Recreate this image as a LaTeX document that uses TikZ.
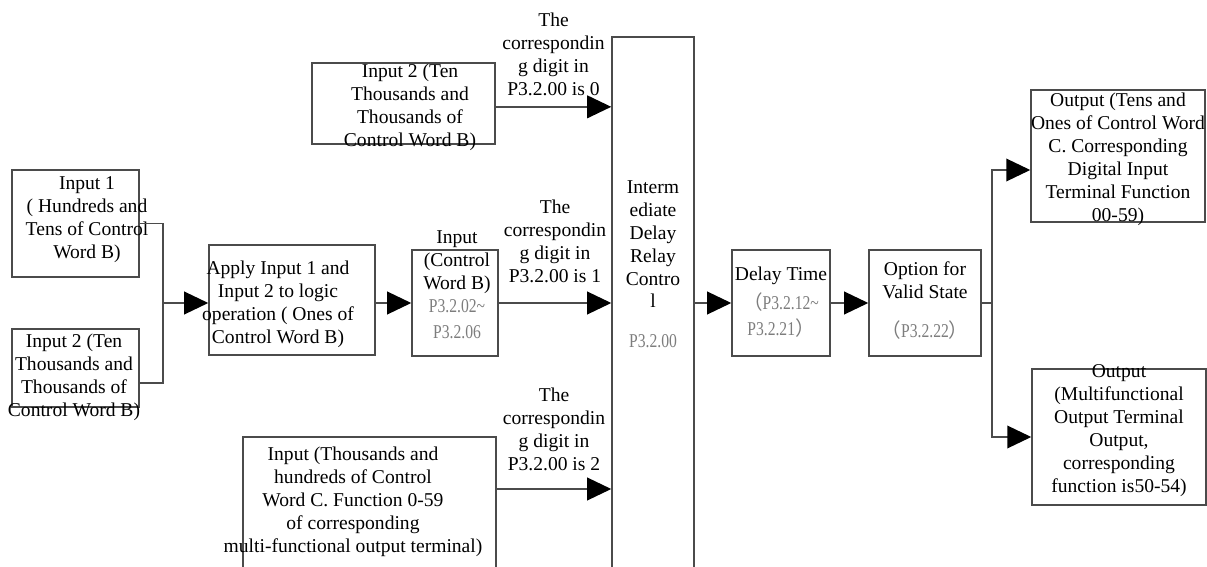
\documentclass[tikz,border=0pt]{standalone}
\usepackage{fontspec}
\setmainfont{Liberation Serif}
\newfontfamily\codefont[FakeStretch=0.8]{Liberation Serif}
\newfontfamily\cjk{Noto Sans CJK SC}
\usepackage{tikz}
\definecolor{boxline}{RGB}{75, 75, 75}
\definecolor{codegray}{RGB}{125, 125, 125}
\usetikzlibrary{arrows.meta, positioning, calc}
\newcommand{\pxu}{0.03cm}
\newcommand{\code}[1]{{\codefont\color{codegray}#1}}
\newcommand{\wideparen}[1]{{\cjk\color{codegray}#1}}
\tikzset{
    blockbox/.style={draw=boxline, line width=1.3pt, inner sep=0pt},
    wh/.style 2 args={minimum width=#1*\pxu, minimum height=#2*\pxu},
    blocktext/.style={align=center, inner sep=0pt, font=\fontsize{16.7}{19.6}\selectfont},
    digitlabel/.style={blocktext, midway, above=#1},
    flow/.style={draw=boxline, line width=1.3pt,
        -{Triangle[length=0.72cm, width=0.68cm, color=black]}},
    joinline/.style={draw=boxline, line width=1.3pt}
}

\begin{document}
\begin{tikzpicture}[x=\pxu, y=-\pxu]
    \useasboundingbox (0,0) rectangle (1207,567);
    \clip (0,0) rectangle (1207,567);

    % boxes
    \node[blockbox, wh={127}{107}] (inone) at (75.5,223.5) {};
    \node[blockbox, wh={127}{78}] (intwoa) at (75.5,368) {};
    \node[blockbox, wh={166}{110}] (apply) at (292,300) {};
    \node[blockbox, wh={86}{106}] (cwb) at (455,303) {};
    \node[blockbox, wh={183}{81}] (intwo) at (403.5,103.5) {};
    \node[blockbox, wh={253}{163}] (inc) at (369.5,518.5) {};
    \node[blockbox, wh={82}{563}] (relay) at (653,318.5) {};
    \node[blockbox, wh={98}{106}] (delay) at (781,303) {};
    \node[blockbox, wh={112}{106}] (valid) at (925,303) {};
    \node[blockbox, wh={174}{132}] (outone) at (1118,156) {};
    \node[blockbox, wh={174}{136}] (outtwo) at (1119,437) {};

    % texts
    \node[blocktext] (inone-t) at (87,219.5) {Input 1\\( Hundreds and\\Tens of Control\\Word B)};
    \node[blocktext] (intwoa-t) at (74,377) {Input 2 (Ten\\Thousands and\\Thousands of\\Control Word B)};
    \node[blocktext] (apply-t) at (278,304) {Apply Input 1 and\\Input 2 to logic\\operation ( Ones of\\Control Word B)};
    \node[blocktext] (cwb-t) at (457,285) {Input\\(Control\\Word B)\\\code{P3.2.02\textasciitilde}\\[3pt]\code{P3.2.06}};
    \node[blocktext] (intwo-t) at (410,107) {Input 2 (Ten\\Thousands and\\Thousands of\\Control Word B)};
    \node[blocktext] (inc-t) at (353,502) {Input (Thousands and\\hundreds of Control\\Word C. Function 0-59\\of corresponding\\multi-functional output terminal)};
    \node[blocktext] (relay-t) at (653,264) {Interm\\ediate\\Delay\\Relay\\Contro\\l\\[14pt]\code{P3.2.00}};
    \node[blocktext] (delay-t) at (781,302) {Delay Time\\[5pt]\wideparen{（}\code{P3.2.12\textasciitilde}\\[3pt]\code{P3.2.21}\wideparen{）}};
    \node[blocktext] (valid-t) at (925,300.5) {Option for\\Valid State\\[14pt]\wideparen{（}\code{P3.2.22}\wideparen{）}};
    \node[blocktext] (outone-t) at (1118,159.5) {Output (Tens and\\Ones of Control Word\\C. Corresponding\\Digital Input\\Terminal Function\\00-59)};
    \node[blocktext] (outtwo-t) at (1119,430.5) {Output\\(Multifunctional\\Output Terminal\\Output,\\corresponding\\function is50-54)};

    % connectors
    \coordinate (join) at (163,303);
    \coordinate (fork) at (992,303);
    \draw[joinline] (inone.east) -| (join);
    \draw[joinline] ([yshift=-0.45cm]intwoa.east) -| (join);
    \draw[flow] (join) -- (join -| apply.west);
    \draw[flow] (apply.east |- join) -- (cwb.west |- join);
    \draw[flow] ([yshift=-0.1cm]intwo.east) -- ([yshift=-0.1cm]intwo.east -| relay.west)
        node[digitlabel=9pt] (lab0) {The\\correspondin\\g digit in\\P3.2.00 is 0};
    \draw[flow] (cwb.east) -- (cwb.east -| relay.west)
        node[digitlabel=17pt] (lab1) {The\\correspondin\\g digit in\\P3.2.00 is 1};
    \draw[flow] ([yshift=0.885cm]inc.east) -- ([yshift=0.885cm]inc.east -| relay.west)
        node[digitlabel=15pt] (lab2) {The\\correspondin\\g digit in\\P3.2.00 is 2};
    \draw[flow] (relay.east |- delay.west) -- (delay.west);
    \draw[flow] (delay.east) -- (valid.west);
    \draw[joinline] (valid.east) -- (fork);
    \draw[flow] (fork) |- ([yshift=-0.42cm]outone.west);
    \draw[flow] (fork) |- (outtwo.west);
\end{tikzpicture}
\end{document}
